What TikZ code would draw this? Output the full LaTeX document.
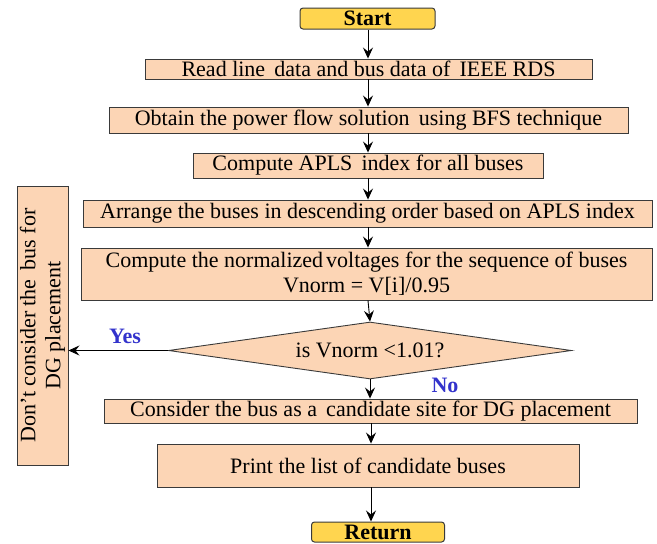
\documentclass[tikz,border=0pt]{standalone}
\usepackage{fontspec}
\setmainfont{Liberation Serif}
\usetikzlibrary{shapes.geometric,arrows.meta}
\definecolor{peach}{HTML}{FCD5B5}
\definecolor{gold}{HTML}{FFD54F}
\definecolor{edge}{HTML}{3A3A3A}
\definecolor{lblue}{HTML}{3333CC}
\begin{document}
\begin{tikzpicture}[x=1pt,y=-1pt,
  proc/.style={draw=edge,line width=0.9pt,fill=peach,inner sep=0pt,font=\fontsize{22}{25}\selectfont},
  term/.style={draw=edge,line width=1pt,fill=gold,rounded corners=3pt,inner sep=0pt,font=\fontsize{22}{25}\selectfont\bfseries},
  dec/.style={draw=edge,line width=0.9pt,fill=peach,diamond,aspect=7,inner sep=0pt,font=\fontsize{22}{25}\selectfont},
  flow/.style={line width=0.9pt,-{Stealth[length=11pt,width=10pt,inset=4pt]}},
  lbl/.style={text=lblue,font=\fontsize{22}{25}\selectfont\bfseries}]
\useasboundingbox (0,0) rectangle (657,544);
\node[term,minimum width=135pt,minimum height=21pt] (start) at (367.5,18.5) {Start};
\node[proc,minimum width=447pt,minimum height=20pt] (b1) at (368.5,69) {Read line \,data and bus data of \,IEEE RDS};
\node[proc,minimum width=519pt,minimum height=26pt] (b2) at (368.5,120) {Obtain the power flow solution \,using BFS technique};
\node[proc,minimum width=350pt,minimum height=25pt] (b3) at (368,165.5) {Compute APLS \,index for all buses};
\node[proc,minimum width=569pt,minimum height=27pt] (b4) at (367.5,213.5) {Arrange the buses in descending order based on APLS index};
\node[proc,minimum width=571pt,minimum height=52pt,align=center] (b5) at (366.5,274) {Compute the normalized\kern3pt voltages for the sequence of buses\\Vnorm = V[i]/0.95};
\node[dec,minimum width=403pt,minimum height=57pt] (dia) at (370,350.5) {is Vnorm <1.01?};
\node[proc,minimum width=533pt,minimum height=24pt] (b6) at (370.5,411) {Consider the bus as a \,candidate site for DG placement};
\node[proc,minimum width=422pt,minimum height=43pt] (b7) at (368,465.5) {Print the list of candidate buses};
\node[term,minimum width=133pt,minimum height=20pt] (ret) at (378,532) {Return};
\node[proc,minimum width=279pt,minimum height=51pt,rotate=90,align=center] (left) at (42.5,325.5) {Don't consider the \,bus for\\DG placement};
\coordinate (ax) at (368,0);
\coordinate (ax2) at (371,0);
\draw[flow] (ax |- start.south) -- (ax |- b1.north);
\draw[flow] (ax |- b1.south) -- (ax |- b2.north);
\draw[flow] (ax |- b2.south) -- (ax |- b3.north);
\draw[flow] (ax |- b3.south) -- (ax |- b4.north);
\draw[flow] (ax |- b4.south) -- (ax |- b5.north);
\draw[flow] (ax |- b5.south) -- (dia.north);
\draw[flow] (dia.south) -- (dia.south |- b6.north);
\draw[flow] (ax2 |- b6.south) -- (ax2 |- b7.north);
\draw[flow] (ax2 |- b7.south) -- (ax2 |- ret.north);
\draw[flow] (dia.west) -- (left.south |- dia.west);
\node[lbl] (yes) at (125,336) {Yes};
\node[lbl] (no) at (445,385) {No};
\end{tikzpicture}
\end{document}
